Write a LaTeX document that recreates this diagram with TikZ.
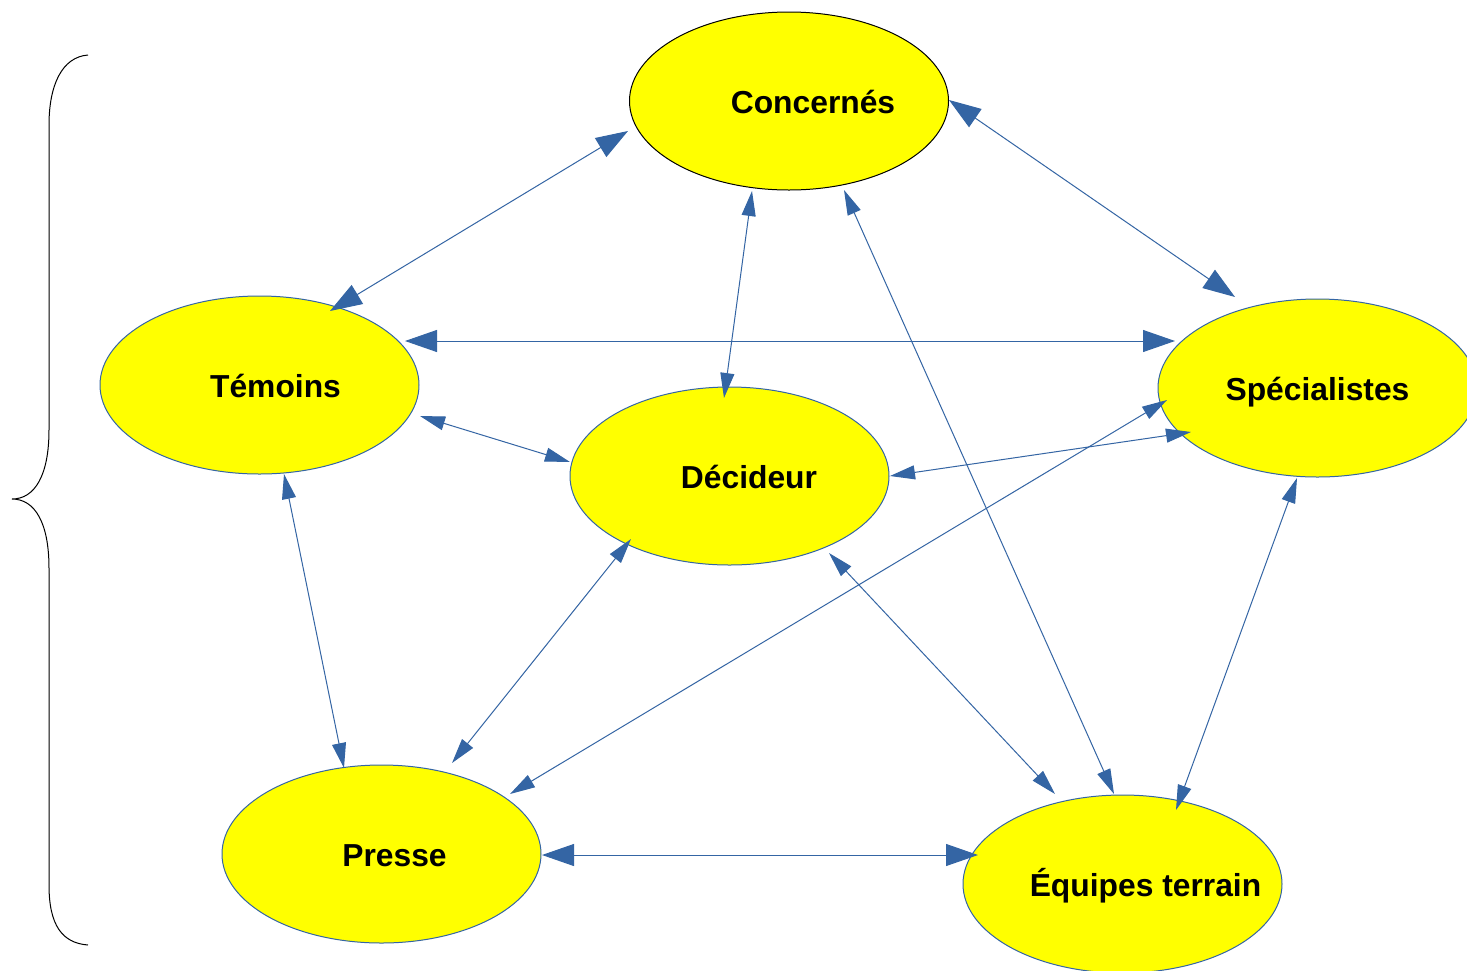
\documentclass[tikz,border=0pt]{standalone}
\usepackage{fontspec}
\setmainfont{Liberation Sans}
\usetikzlibrary{arrows.meta,calc,shapes.geometric}
\definecolor{lblue}{HTML}{3465A4}
\definecolor{lyellow}{HTML}{FFFF00}
\newcommand{\btext}[2]{\makebox[0pt][c]{\hspace*{#1}#2}}
\tikzset{
  bubble/.style={ellipse, draw=lblue, line width=0.5pt, fill=lyellow,
    minimum width=159.5pt, minimum height=89pt, inner sep=0pt,
    text height=12pt, text depth=0pt,
    font=\fontsize{15.9}{19}\selectfont\bfseries, text=black},
  link/.style={draw=lblue, line width=0.5pt},
  bigarr/.style={link, {Triangle[length=16pt,width=11pt]}-{Triangle[length=16pt,width=11pt]}},
  smallarr/.style={link, {Triangle[length=12.5pt,width=7pt]}-{Triangle[length=12.5pt,width=7pt]}},
  bracepath/.style={draw=black, line width=0.5pt}
}
\begin{document}
\begin{tikzpicture}[x=0.5pt,y=-0.5pt]
\clip (0,0) rectangle (1467,970);
\fill[white] (0,0) rectangle (1467,970);
% brace
\draw[bracepath] (88,55) .. controls (62,57) and (49,85) .. (49,125) -- (49,430)
  .. controls (49,475) and (35,499) .. (12,499)
  .. controls (35,499) and (49,523) .. (49,568) -- (49,885)
  .. controls (49,925) and (62,943) .. (88,945);
% nodes
\node[bubble, draw=black] (C) at (789,101) {\btext{24pt}{Concernés}};
\node[bubble] (T) at (259.5,385) {\btext{16pt}{Témoins}};
\node[bubble] (D) at (729.5,476) {\btext{19.5pt}{Décideur}};
\node[bubble] (S) at (1317.5,388) {\btext{0pt}{Spécialistes}};
\node[bubble] (P) at (381.5,854) {\btext{13pt}{Presse}};
\node[bubble] (E) at (1122.5,884) {\btext{23pt}{Équipes terrain}};
% connectors
\draw[bigarr] ($(C.center)+(-161,30)$) -- ($(T.center)+(70.5,-74)$);
\draw[bigarr] ($(C.center)+(160,-1)$) -- ($(S.center)+(-82.5,-91)$);
\draw[smallarr] ($(C.center)+(-37,90)$) -- ($(D.center)+(-5.5,-78)$);
\draw[smallarr] ($(C.center)+(55,89)$) -- ($(E.center)+(-8.5,-90)$);
\draw[bigarr] ($(T.center)+(145.5,-44)$) -- ($(S.center)+(-142.5,-47)$);
\draw[smallarr] ($(T.center)+(160.5,31)$) -- ($(D.center)+(-159.5,-14)$);
\draw[smallarr] ($(T.center)+(24.5,89)$) -- ($(P.center)+(-37.5,-86)$);
\draw[smallarr] ($(D.center)+(160.5,0)$) -- ($(S.center)+(-126.5,44)$);
\draw[smallarr] ($(S.center)+(-150.5,12)$) -- ($(P.center)+(128.5,-60)$);
\draw[smallarr] ($(D.center)+(-98.5,63)$) -- ($(P.center)+(70.5,-91)$);
\draw[smallarr] ($(D.center)+(99.5,77)$) -- ($(E.center)+(-67.5,-90)$);
\draw[smallarr] ($(S.center)+(-20.5,90)$) -- ($(E.center)+(53.5,-74)$);
\draw[bigarr] ($(P.center)+(160.5,1)$) -- ($(E.center)+(-144.5,-29)$);
\end{tikzpicture}
\end{document}
